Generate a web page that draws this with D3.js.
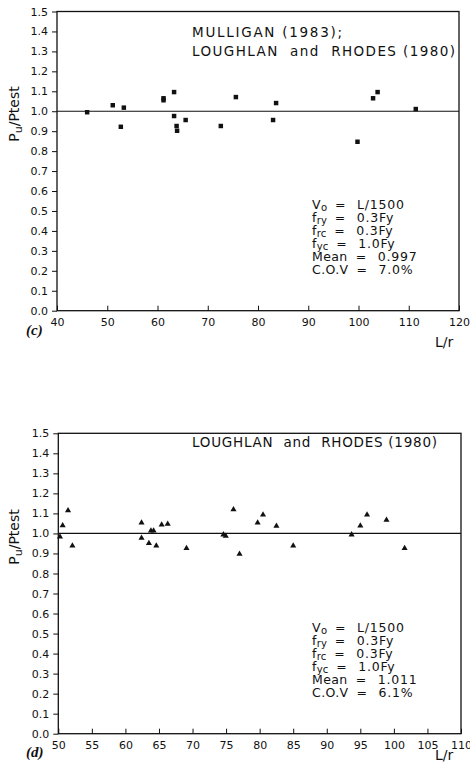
<!DOCTYPE html>
<html>
<head>
<meta charset="utf-8">
<script src="https://cdn.jsdelivr.net/npm/d3@7"></script>
<style>
  html, body { margin: 0; padding: 0; background: #fff; }
  svg { display: block; }
  text { font-family: "DejaVu Sans", sans-serif; fill: #111; }
</style>
</head>
<body>
<svg id="chart" width="470" height="771"></svg>
<script>
// ---------------- DATA ----------------
// Panel (c): Mulligan (1983); Loughlan and Rhodes (1980) — square markers
const cLr    = [46.0, 51.1, 52.7, 53.3, 61.2, 61.2, 63.3, 63.3, 63.8, 63.9, 65.6, 72.6, 75.6, 83.0, 83.6, 99.8, 102.9, 103.8, 111.4];
const cRatio = [0.995, 1.030, 0.922, 1.018, 1.055, 1.065, 1.096, 0.976, 0.926, 0.902, 0.956, 0.926, 1.071, 0.956, 1.041, 0.847, 1.065, 1.096, 1.011];
// Panel (d): Loughlan and Rhodes (1980) — triangle markers
const dLr    = [50.25, 50.65, 51.45, 52.1, 62.4, 62.4, 63.5, 63.8, 64.2, 64.6, 65.4, 66.3, 69.1, 74.6, 74.95, 76.1, 77.0, 79.7, 80.5, 82.5, 85.0, 93.7, 95.0, 96.0, 98.9, 101.6];
const dRatio = [0.983, 1.040, 1.115, 0.939, 1.053, 0.977, 0.951, 1.013, 1.013, 0.939, 1.043, 1.047, 0.926, 0.994, 0.987, 1.120, 0.897, 1.053, 1.093, 1.037, 0.939, 0.994, 1.038, 1.093, 1.067, 0.926];

const yTicks  = [0.0, 0.1, 0.2, 0.3, 0.4, 0.5, 0.6, 0.7, 0.8, 0.9, 1.0, 1.1, 1.2, 1.3, 1.4, 1.5];
const cXTicks = [40, 50, 60, 70, 80, 90, 100, 110, 120];
const dXTicks = [50, 55, 60, 65, 70, 75, 80, 85, 90, 95, 100, 105, 110];

const cTitle = ["MULLIGAN (1983);", "LOUGHLAN  and  RHODES (1980)"];
const dTitle = ["LOUGHLAN  and  RHODES (1980)"];

// annotation lines: [main, subscript, value]
const cNotes = [["V", "o", "L/1500"], ["f", "ry", "0.3Fy"], ["f", "rc", "0.3Fy"], ["f", "yc", "1.0Fy"], ["Mean", "", "0.997"], ["C.O.V", "", "7.0%"]];
const dNotes = [["V", "o", "L/1500"], ["f", "ry", "0.3Fy"], ["f", "rc", "0.3Fy"], ["f", "yc", "1.0Fy"], ["Mean", "", "1.011"], ["C.O.V", "", "6.1%"]];

const panelLabels = ["(c)", "(d)"];
const refValue = 1.0;

// ---------------- LAYOUT ----------------
const svg = d3.select("#chart");

const panels = [
  { xs: cLr, ys: cRatio, xDom: [40, 120], xTicks: cXTicks, x0: 57, x1: 459, yTop: 11.5, yBot: 310.7,
    title: cTitle, titleY: [37, 56], titleW: [150, 263], notes: cNotes, noteY: 209, label: panelLabels[0], labelY: 335,
    lrY: 347, yLabelY: 114, marker: d3.symbolSquare, mSize: 20 },
  { xs: dLr, ys: dRatio, xDom: [50, 110], xTicks: dXTicks, x0: 58.3, x1: 461, yTop: 433.3, yBot: 733.7,
    title: dTitle, titleY: [447], titleW: [245], notes: dNotes, noteY: 632, label: panelLabels[1], labelY: 757,
    lrY: 760, yLabelY: 537, marker: d3.symbolTriangle, mSize: 16 }
];

panels.forEach(p => {
  const x = d3.scaleLinear().domain(p.xDom).range([p.x0, p.x1]);
  const y = d3.scaleLinear().domain([0, 1.5]).range([p.yBot, p.yTop]);
  const g = svg.append("g");

  // frame
  g.append("rect")
    .attr("x", p.x0).attr("y", p.yTop)
    .attr("width", p.x1 - p.x0).attr("height", p.yBot - p.yTop)
    .attr("fill", "none").attr("stroke", "#111").attr("stroke-width", 1.3);

  // y axis: outward ticks
  const yAxis = d3.axisLeft(y).tickValues(yTicks).tickSize(5).tickPadding(4)
    .tickFormat(d3.format(".1f"));
  const ya = g.append("g").attr("transform", `translate(${p.x0},0)`).call(yAxis);
  ya.select(".domain").remove();
  ya.selectAll("line").attr("stroke", "#111").attr("stroke-width", 1);
  ya.selectAll("text").style("font-size", "11px").style("font-family", "DejaVu Sans, sans-serif").attr("fill", "#111");

  // x axis: inward ticks
  const xAxis = d3.axisBottom(x).tickValues(p.xTicks).tickSize(-5).tickPadding(0)
    .tickFormat(d3.format("d"));
  const xa = g.append("g").attr("transform", `translate(0,${p.yBot})`).call(xAxis);
  xa.select(".domain").remove();
  xa.selectAll("line").attr("stroke", "#111").attr("stroke-width", 1);
  xa.selectAll("text").attr("y", 15.5).attr("dy", null)
    .style("font-size", "11px").style("font-family", "DejaVu Sans, sans-serif").attr("fill", "#111");

  // reference line at 1.0
  g.append("line")
    .attr("x1", x(p.xDom[0])).attr("x2", x(p.xDom[1]))
    .attr("y1", y(refValue)).attr("y2", y(refValue))
    .attr("stroke", "#111").attr("stroke-width", 1.2);

  // markers
  const sym = d3.symbol().type(p.marker).size(p.mSize);
  g.selectAll("path.pt").data(p.xs.map((v, i) => [v, p.ys[i]])).enter()
    .append("path").attr("class", "pt")
    .attr("d", sym)
    .attr("transform", d => `translate(${x(d[0])},${y(d[1])})`)
    .attr("fill", "#111");

  // title
  p.title.forEach((t, i) => {
    g.append("text").attr("x", 192).attr("y", p.titleY[i])
      .attr("textLength", p.titleW[i]).attr("lengthAdjust", "spacing")
      .style("font-size", "13.5px").style("white-space", "pre").attr("xml:space", "preserve").text(t);
  });

  // annotation block — one text element per line
  p.notes.forEach((n, i) => {
    const by = p.noteY + i * 13;
    const t = g.append("text").attr("x", 312).attr("y", by).style("font-size", "12.5px");
    t.append("tspan").style("letter-spacing", "0.4px").text(n[0]);
    if (n[1]) t.append("tspan").attr("dy", 2).style("font-size", "10px").text(n[1]);
    const w = t.node().getComputedTextLength();
    const eqX = 312 + w + 8;
    t.append("tspan").attr("x", eqX).attr("y", by).text("=");
    t.append("tspan").attr("x", eqX + 22).attr("y", by).style("letter-spacing", "0.8px").text(n[2]);
  });

  // y axis label Pu/Ptest
  const yl = g.append("text")
    .attr("transform", `translate(19,${p.yLabelY}) rotate(-90)`)
    .attr("text-anchor", "middle").style("font-size", "14px");
  yl.append("tspan").text("P");
  yl.append("tspan").attr("dy", 3).style("font-size", "11px").text("u");
  yl.append("tspan").attr("dy", -3).text("/Ptest");

  // x axis label
  g.append("text").attr("x", 435).attr("y", p.lrY).style("font-size", "14px").text("L/r");

  // panel label
  g.append("text").attr("x", 26).attr("y", p.labelY)
    .style("font-family", "Liberation Serif, serif").style("font-weight", "bold")
    .style("font-style", "italic").style("font-size", "15px").text(p.label);
});
</script>
</body>
</html>
